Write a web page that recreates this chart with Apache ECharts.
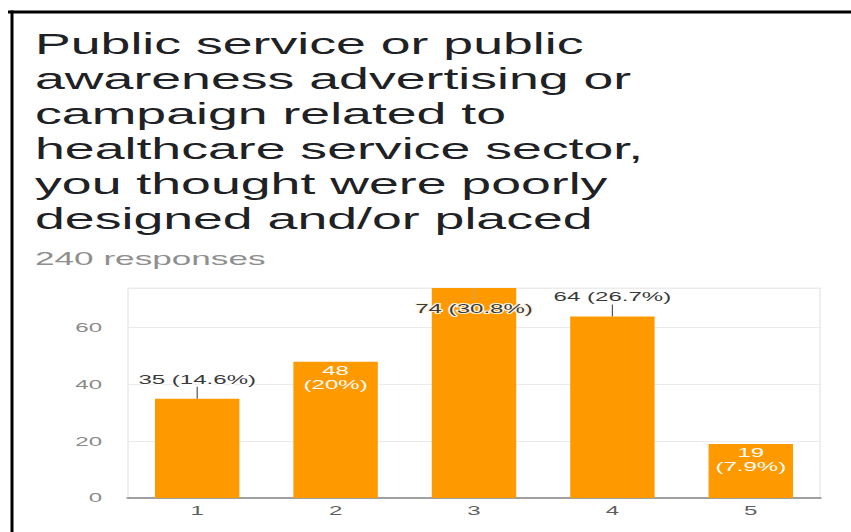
<!DOCTYPE html>
<html>
<head>
<meta charset="utf-8">
<script src="https://cdn.jsdelivr.net/npm/echarts@6/dist/echarts.min.js"></script>
<style>
  html, body { margin: 0; padding: 0; background: #ffffff; overflow: hidden; }
  /* The survey card is shown horizontally widened */
  #chart {
    width: 460px;
    height: 532px;
    transform: scaleX(1.85);
    transform-origin: 0 0;
  }
</style>
</head>
<body>
<div id="chart"></div>
<script>
// Survey question and answer counts
const titleLines = [
  'Public service or public',
  'awareness advertising or',
  'campaign related to',
  'healthcare service sector,',
  'you thought were poorly',
  'designed and/or placed'
];
const totalResponses = 240;
const categories = ['1', '2', '3', '4', '5'];
const responses = [35, 48, 74, 64, 19];
const yTickStep = 20;

// Where each count label sits relative to its bar
const labelPlacement = ['above', 'inside', 'insideTop', 'above', 'inside'];

const STRETCH = 1.85;
const FONT = '"Liberation Sans", Arial, sans-serif';
const BAR_COLOR = '#ff9900';
const STEM = 12;

function pct(v) {
  const p = Math.round(v / totalResponses * 1000) / 10;
  return (Number.isInteger(p) ? p.toFixed(0) : p.toFixed(1)) + '%';
}

const barData = responses.map((v, i) => {
  const place = labelPlacement[i];
  let label;
  if (place === 'above') {
    label = {
      position: 'top', distance: STEM + 1,
      color: '#3a3a3a', textBorderColor: '#ffffff', textBorderWidth: 2,
      formatter: p => p.value + ' (' + pct(p.value) + ')'
    };
  } else if (place === 'insideTop') {
    label = {
      position: 'insideTop', distance: 14,
      color: '#3a3a3a', textBorderColor: '#fff3e0', textBorderWidth: 2,
      formatter: p => p.value + ' (' + pct(p.value) + ')'
    };
  } else {
    label = {
      position: 'insideTop', distance: 2, lineHeight: 14,
      color: '#ffffff',
      formatter: p => p.value + '\n(' + pct(p.value) + ')'
    };
  }
  return { value: v, label: label };
});

const chart = echarts.init(document.getElementById('chart'), null, { renderer: 'svg' });

chart.setOption({
  backgroundColor: '#ffffff',
  animation: false,
  title: [
    {
      text: titleLines.join('\n'),
      left: 35 / STRETCH,
      top: 26,
      padding: 0,
      textStyle: {
        fontFamily: FONT, fontSize: 29, lineHeight: 35,
        fontWeight: 'normal', color: '#202124'
      }
    },
    {
      text: totalResponses + ' responses',
      left: 35 / STRETCH,
      top: 247,
      padding: 0,
      textStyle: {
        fontFamily: FONT, fontSize: 19, lineHeight: 22,
        fontWeight: 'normal', color: '#8f8f8f'
      }
    }
  ],
  graphic: [
    // page frame lines
    { type: 'rect', left: 8 / STRETCH, top: 10.5, shape: { width: 460, height: 3 }, style: { fill: '#000000' }, silent: true },
    { type: 'rect', left: 10.5 / STRETCH, top: 10.5, shape: { width: 3 / STRETCH, height: 530 }, style: { fill: '#000000' }, silent: true }
  ],
  grid: {
    left: 128 / STRETCH,
    right: 460 - 820 / STRETCH,
    top: 288,
    bottom: 34,
    show: true,
    borderColor: '#eeeeee',
    borderWidth: 1,
    containLabel: false
  },
  xAxis: {
    type: 'category',
    data: categories,
    axisLine: { show: true, lineStyle: { color: '#a0a0a0', width: 2 } },
    axisTick: { show: false },
    axisLabel: { color: '#5f5f5f', fontFamily: FONT, fontSize: 13, margin: 6 }
  },
  yAxis: {
    type: 'value',
    min: 0,
    max: Math.max(...responses),
    interval: yTickStep,
    axisLine: { show: false },
    axisTick: { show: false },
    axisLabel: {
      color: '#8a8a8a', fontFamily: FONT, fontSize: 13, margin: 14,
      showMaxLabel: false,
      formatter: v => (v % yTickStep === 0 ? String(v) : '')
    },
    splitLine: { lineStyle: { color: '#ebebeb', width: 1 } }
  },
  series: [
    {
      type: 'bar',
      data: barData,
      barWidth: '61%',
      itemStyle: { color: BAR_COLOR },
      label: { show: true, fontFamily: FONT, fontSize: 13, overflow: 'none' },
      z: 2
    },
    {
      // annotation stems linking outside labels to their bars
      type: 'custom',
      silent: true,
      z: 5,
      data: responses.map((v, i) => [i, v]),
      renderItem: function (params, api) {
        const i = api.value(0);
        const p = api.coord([i, api.value(1)]);
        const place = labelPlacement[i];
        if (place === 'above') {
          return {
            type: 'line',
            shape: { x1: p[0], y1: p[1], x2: p[0], y2: p[1] - STEM },
            style: { stroke: '#555555', lineWidth: 1 / STRETCH * 1.2 }
          };
        }
        if (place === 'insideTop') {
          return {
            type: 'line',
            shape: { x1: p[0], y1: p[1], x2: p[0], y2: p[1] + STEM },
            style: { stroke: '#c9a46a', lineWidth: 1 / STRETCH * 1.2 }
          };
        }
        return null;
      }
    }
  ]
});
</script>
</body>
</html>
